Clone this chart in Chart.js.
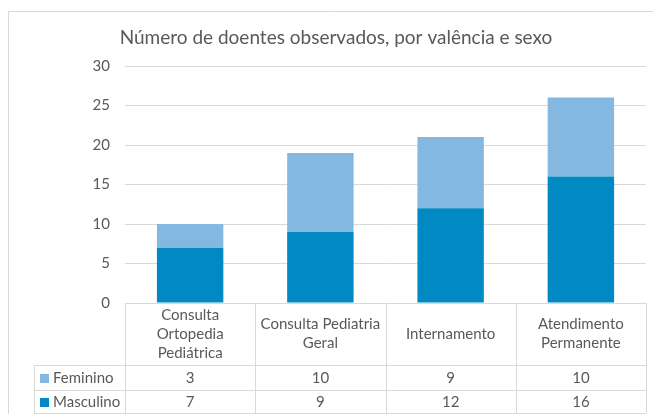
<!DOCTYPE html>
<html>
<head>
<meta charset="utf-8">
<script src="https://cdn.jsdelivr.net/npm/chart.js@4.4.0/dist/chart.umd.min.js"></script>
<style>
html, body { margin: 0; padding: 0; background: #fff; }
#wrap { width: 653px; height: 414px; }
</style>
</head>
<body>
<div id="wrap"><canvas id="cc"></canvas></div>
<script>
// dados
const categorias = [["Consulta", "Ortopedia", "Pediátrica"], ["Consulta Pediatria", "Geral"], ["Internamento"], ["Atendimento", "Permanente"]];
const series = ["Feminino", "Masculino"];
const feminino = [3, 10, 9, 10];
const masculino = [7, 9, 12, 16];
const yMax = 30;
const yStep = 5;
const titulo = "Número de doentes observados, por valência e sexo";

const corMasc = "#0089C3";
const corFem = "#85B8E1";
const corTexto = "#595959";
const corLinha = "#D9D9D9";
const fonte = "Lato, 'Open Sans', sans-serif";

Chart.defaults.font.family = fonte;
Chart.defaults.color = corTexto;

// tabela de dados por baixo do gráfico + título + moldura
const tabelaPlugin = {
	id: "tabela",
	afterDraw(chart) {
		const ctx = chart.ctx;
		const x = chart.scales.x;
		const area = chart.chartArea;
		const n = categorias.length;
		const w = (area.right - area.left) / n;
		const rows = [area.bottom, 365, 390, 413];
		const legLeft = 34;

		ctx.save();
		ctx.strokeStyle = corLinha;
		ctx.lineWidth = 1;

		// moldura
		ctx.beginPath();
		ctx.moveTo(8.5, 414);
		ctx.lineTo(8.5, 11.5);
		ctx.lineTo(653, 11.5);
		ctx.stroke();

		// linhas horizontais
		ctx.beginPath();
		ctx.moveTo(area.left, Math.round(rows[0]) + 0.5);
		ctx.lineTo(area.right, Math.round(rows[0]) + 0.5);
		for (let r = 1; r < rows.length; r++) {
			ctx.moveTo(legLeft, rows[r] + 0.5);
			ctx.lineTo(area.right, rows[r] + 0.5);
		}
		// linhas verticais
		for (let i = 0; i <= n; i++) {
			const xx = Math.round(area.left + i * w) + 0.5;
			ctx.moveTo(xx, rows[0]);
			ctx.lineTo(xx, rows[3]);
		}
		ctx.moveTo(legLeft + 0.5, rows[1]);
		ctx.lineTo(legLeft + 0.5, rows[3]);
		ctx.stroke();

		// título
		ctx.fillStyle = corTexto;
		ctx.textAlign = "center";
		ctx.textBaseline = "middle";
		ctx.font = "19px " + fonte;
		ctx.fillText(titulo, 336, 38);

		// categorias
		ctx.font = "15px " + fonte;
		const lh = 19;
		const midHead = (rows[0] + rows[1]) / 2;
		for (let i = 0; i < n; i++) {
			const cx = x.getPixelForValue(i);
			const lines = categorias[i];
			const y0 = midHead - (lines.length - 1) * lh / 2;
			lines.forEach((t, k) => ctx.fillText(t, cx, y0 + k * lh));
		}

		// valores
		const valores = [feminino, masculino];
		const cores = [corFem, corMasc];
		for (let r = 0; r < 2; r++) {
			const cy = (rows[r + 1] + rows[r + 2]) / 2 + 1;
			ctx.textAlign = "center";
			ctx.fillStyle = corTexto;
			for (let i = 0; i < n; i++) {
				ctx.fillText(String(valores[r][i]), x.getPixelForValue(i), cy);
			}
			ctx.fillStyle = cores[r];
			ctx.fillRect(40, cy - 4.5, 9, 9);
			ctx.fillStyle = corTexto;
			ctx.textAlign = "left";
			ctx.fillText(series[r], 53, cy);
		}
		ctx.restore();
	}
};

let chartId = document.getElementById("cc");
let chart = new Chart(chartId, {
	type: "bar",
	data: {
		labels: categorias,
		datasets: [
			{
				label: series[1],
				data: masculino,
				backgroundColor: corMasc,
				barPercentage: 0.51,
				categoryPercentage: 1
			},
			{
				label: series[0],
				data: feminino,
				backgroundColor: corFem,
				barPercentage: 0.51,
				categoryPercentage: 1
			}
		]
	},
	options: {
		responsive: true,
		maintainAspectRatio: false,
		animation: false,
		layout: {
			padding: { top: 66, right: 7, bottom: 111, left: 0 }
		},
		plugins: {
			legend: { display: false },
			tooltip: { enabled: false },
			title: { display: false }
		},
		scales: {
			x: {
				stacked: true,
				display: false
			},
			y: {
				stacked: true,
				min: 0,
				max: yMax,
				ticks: {
					stepSize: yStep,
					padding: 15,
					color: corTexto,
					font: { size: 15 }
				},
				border: { display: false },
				grid: {
					color: corLinha,
					drawTicks: false
				},
				afterFit(s) { s.width = 125; }
			}
		}
	},
	plugins: [tabelaPlugin]
});
</script>
</body>
</html>
